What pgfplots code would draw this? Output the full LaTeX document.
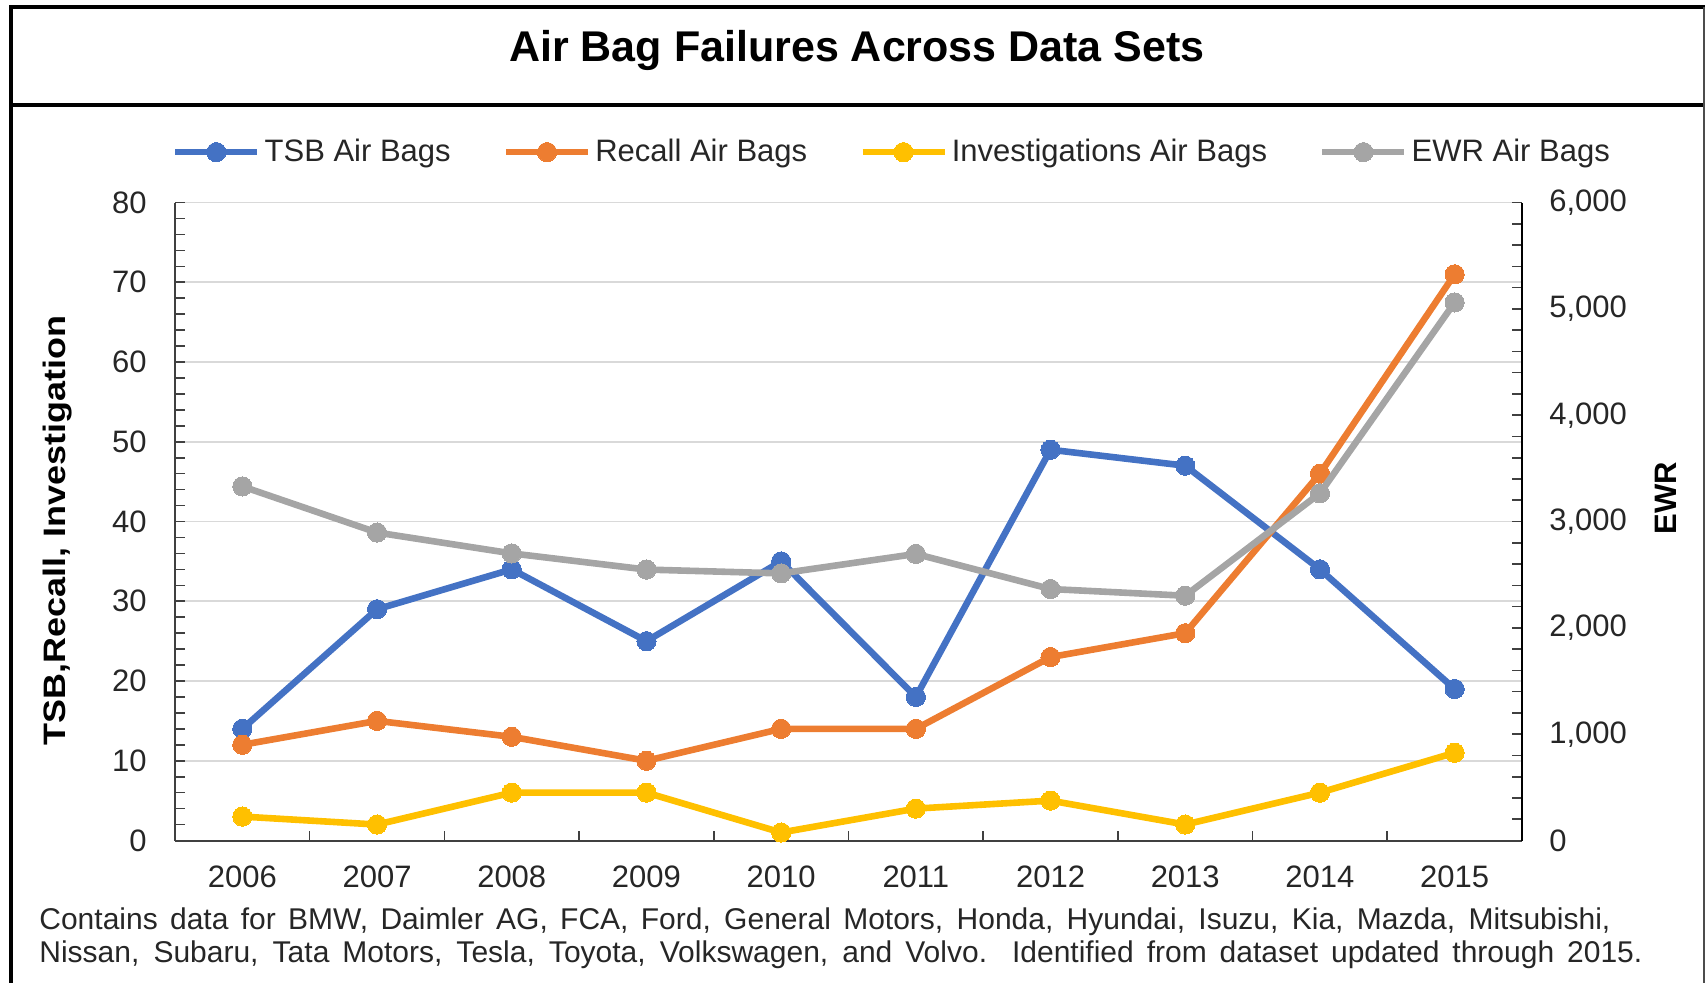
\documentclass[border=0pt]{standalone}
\usepackage{fontspec}
\setmainfont{Liberation Sans}
\usepackage{pgfplots}
\pgfplotsset{compat=1.18}
\definecolor{cblue}{HTML}{4472C4}
\definecolor{corange}{HTML}{ED7D31}
\definecolor{cyellow}{HTML}{FFC000}
\definecolor{cgray}{HTML}{A5A5A5}
\definecolor{gridc}{HTML}{D9D9D9}
\definecolor{axc}{HTML}{404040}
\pgfplotsset{
  ser/.style={color=#1, line width=3.3pt, mark=*, mark size=4.8pt, mark options={solid, fill=#1, draw=#1, line width=0pt}},
}
\begin{document}
\begin{tikzpicture}[x=1pt,y=1pt]
\path[use as bounding box] (0,0) rectangle (852.5,491);
% frame
\draw[line width=2pt] (5.5,-2) -- (5.5,487.5) -- (852.5,487.5);
\draw[line width=2pt] (5.5,438.5) -- (852.5,438.5);
\draw[line width=1pt, black!70] (851.8,-2) -- (851.8,487.5);
\node[anchor=base, inner sep=0pt, font=\fontsize{21.5}{26}\selectfont\bfseries] at (428.5,460) {Air Bag Failures Across Data Sets};

\begin{axis}[
  at={(87.5pt,70.75pt)}, anchor=south west,
  scale only axis, width=673.5pt, height=319pt,
  xmin=-0.5, xmax=9.5, ymin=0, ymax=80,
  axis x line*=bottom, axis y line*=left,
  axis line style={-, draw=axc, line width=1pt},
  xtick={0,...,9},
  xticklabels={2006,2007,2008,2009,2010,2011,2012,2013,2014,2015},
  major x tick style={draw=none},
  minor xtick={0.5,1.5,...,8.5},
  ytick={0,10,...,80}, minor ytick={2,4,...,78},
  tick align=inside, major tick length=5pt, minor tick length=5pt,
  tick style={draw=axc, line width=0.8pt},
  ymajorgrids, grid style={draw=gridc, line width=0.8pt},
  /pgf/number format/assume math mode=true,
  tick label style={font=\fontsize{15.5}{18}\selectfont, text=black!85},
  yticklabel style={inner sep=0pt, xshift=-14pt},
  xticklabel style={inner sep=0pt, yshift=-12.5pt},
  ylabel={\scalebox{1.16}[1]{TSB,Recall, Investigation}},
  ylabel style={at={(axis description cs:-0.0869,0.486)}, anchor=center, font=\fontsize{15.5}{18}\selectfont\bfseries},
  legend columns=4,
  legend style={draw=none, fill=none, at={(axis description cs:0.533,1.079)}, anchor=center,
    font=\fontsize{15.5}{18}\selectfont, text=black!85,
    /tikz/every even column/.append style={column sep=24pt},
    inner sep=0pt, nodes={inner sep=2pt}},
  legend image code/.code={\draw[mark repeat=2, mark phase=2, #1] plot coordinates {(0pt,0pt) (20.5pt,0pt) (41pt,0pt)};},
]
\addplot[ser=cblue] coordinates {(0,14) (1,29) (2,34) (3,25) (4,35) (5,18) (6,49) (7,47) (8,34) (9,19)};
\addlegendentry{TSB Air Bags}
\addplot[ser=corange] coordinates {(0,12) (1,15) (2,13) (3,10) (4,14) (5,14) (6,23) (7,26) (8,46) (9,71)};
\addlegendentry{Recall Air Bags}
\addplot[ser=cyellow] coordinates {(0,3) (1,2) (2,6) (3,6) (4,1) (5,4) (6,5) (7,2) (8,6) (9,11)};
\addlegendentry{Investigations Air Bags}
\addlegendimage{ser=cgray}
\addlegendentry{EWR Air Bags}
\end{axis}

\begin{axis}[
  at={(87.5pt,70.75pt)}, anchor=south west,
  scale only axis, width=673.5pt, height=319pt,
  xmin=-0.5, xmax=9.5, ymin=0, ymax=6000,
  axis x line=none, axis y line*=right,
  axis line style={-, draw=black, line width=1pt},
  ytick={0,1000,...,6000}, minor y tick num=4,
  tick align=inside, major tick length=5pt, minor tick length=5pt,
  tick style={draw=axc, line width=0.8pt},
  /pgf/number format/assume math mode=true,
  /pgf/number format/1000 sep={,},
  scaled y ticks=false,
  tick label style={font=\fontsize{15.5}{18}\selectfont, text=black!85},
  yticklabel style={inner sep=0pt, xshift=13.5pt},
  ylabel={EWR},
  ylabel style={at={(axis description cs:1.107,0.537)}, anchor=center, font=\fontsize{15.5}{18}\selectfont\bfseries},
]
\addplot[ser=cgray] coordinates {(0,3330) (1,2896) (2,2700) (3,2548) (4,2512) (5,2695) (6,2365) (7,2302) (8,3265) (9,5060)};
\end{axis}

\node[anchor=base west, inner sep=0pt, font=\fontsize{15}{17}\selectfont, text=black!85] at (19.5,26.5)
  {\makebox[785.5pt][s]{Contains data for BMW, Daimler AG, FCA, Ford, General Motors, Honda, Hyundai, Isuzu, Kia, Mazda, Mitsubishi,}};
\node[anchor=base west, inner sep=0pt, font=\fontsize{15}{17}\selectfont, text=black!85] at (19.5,10)
  {\makebox[801.5pt][s]{Nissan, Subaru, Tata Motors, Tesla, Toyota, Volkswagen, and Volvo. Identified from dataset updated through 2015.}};
\end{tikzpicture}
\end{document}
